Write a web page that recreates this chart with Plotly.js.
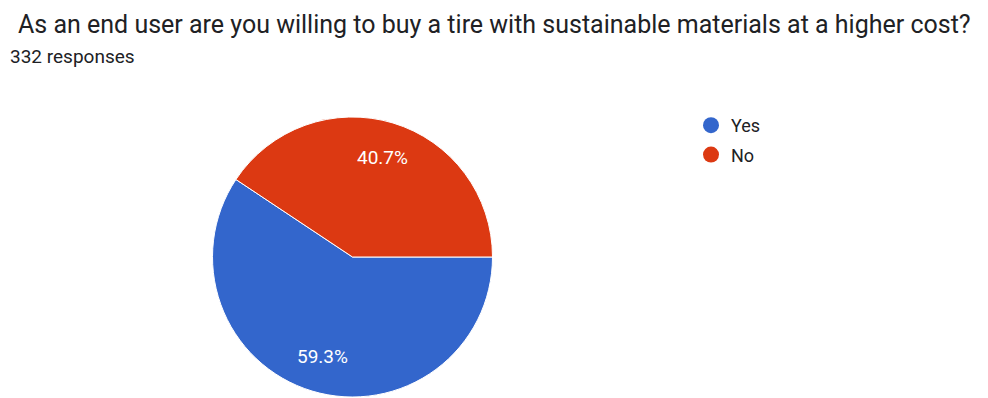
<!DOCTYPE html>
<html>
<head>
<meta charset="utf-8">
<script src="https://cdn.plot.ly/plotly-3.0.1.min.js"></script>
<style>html,body{margin:0;padding:0;background:#fff;overflow:hidden;}#chart{width:988px;height:398px;}</style>
</head>
<body>
<div id="chart"></div>
<script>
const labels = ["Yes", "No"];
const values = [197, 135];
const colors = ["#3366cc", "#dc3912"];
const titleText = "As an end user are you willing to buy a tire with sustainable materials at a higher cost?";
const subtitleText = "332 responses";

const W = 988, H = 398;
const pieDomain = {x: [212.5/W, 492.5/W], y: [1/H, 281/H]};

const pie = {
  type: "pie",
  labels: labels,
  values: values,
  sort: false,
  direction: "clockwise",
  rotation: 90,
  marker: {colors: colors, line: {color: "#ffffff", width: 1}},
  textinfo: "none",
  hoverinfo: "label+percent",
  showlegend: false,
  domain: pieDomain
};

const legendTraces = labels.map((l, i) => ({
  type: "scatter",
  mode: "markers",
  x: [null], y: [null],
  name: l,
  legendgroup: l,
  marker: {color: colors[i], size: 18, symbol: "circle"},
  showlegend: true,
  hoverinfo: "skip"
}));

// percentage labels placed along each slice's bisector (derived from the values)
const total = values.reduce((a, b) => a + b, 0);
const cx = (pieDomain.x[0] + pieDomain.x[1]) / 2 * W;
const cy = (1 - (pieDomain.y[0] + pieDomain.y[1]) / 2) * H;
const R = (pieDomain.x[1] - pieDomain.x[0]) * W / 2;
let acc = 0;
const pctAnnotations = values.map((v) => {
  const frac = v / total;
  const mid = (acc + frac / 2) * 2 * Math.PI; // clockwise from 3 o'clock
  acc += frac;
  const px = cx + 0.74 * R * Math.cos(mid);
  const py = cy + 0.74 * R * Math.sin(mid);
  return {
    text: (frac * 100).toFixed(1) + "%",
    xref: "paper", yref: "paper", x: px / W, y: 1 - py / H,
    xanchor: "center", yanchor: "middle", showarrow: false,
    font: {size: 19, color: "#ffffff"}
  };
});

const layout = {
  width: W,
  height: H,
  margin: {l: 0, r: 0, t: 0, b: 0},
  paper_bgcolor: "#ffffff",
  plot_bgcolor: "#ffffff",
  font: {family: "Roboto, Arial, sans-serif", color: "#202124"},
  xaxis: {visible: false, domain: [0.99, 1]},
  yaxis: {visible: false, domain: [0.99, 1]},
  showlegend: true,
  legend: {
    x: 691/W, y: 1 - 107/H, xanchor: "left", yanchor: "top",
    font: {size: 18, color: "#202124"},
    itemsizing: "trace",
    tracegroupgap: 3,
    itemwidth: 30,
    bgcolor: "rgba(0,0,0,0)"
  },
  annotations: [
    {text: titleText, xref: "paper", yref: "paper", x: 16/W, y: 1 - 8/H,
     xanchor: "left", yanchor: "top", showarrow: false,
     font: {size: 25, color: "#202124"}},
    {text: subtitleText, xref: "paper", yref: "paper", x: 8/W, y: 1 - 43/H,
     xanchor: "left", yanchor: "top", showarrow: false,
     font: {size: 19, color: "#202124"}}
  ].concat(pctAnnotations)
};

Plotly.newPlot("chart", [pie].concat(legendTraces), layout, {displayModeBar: false, staticPlot: true});
</script>
</body>
</html>
